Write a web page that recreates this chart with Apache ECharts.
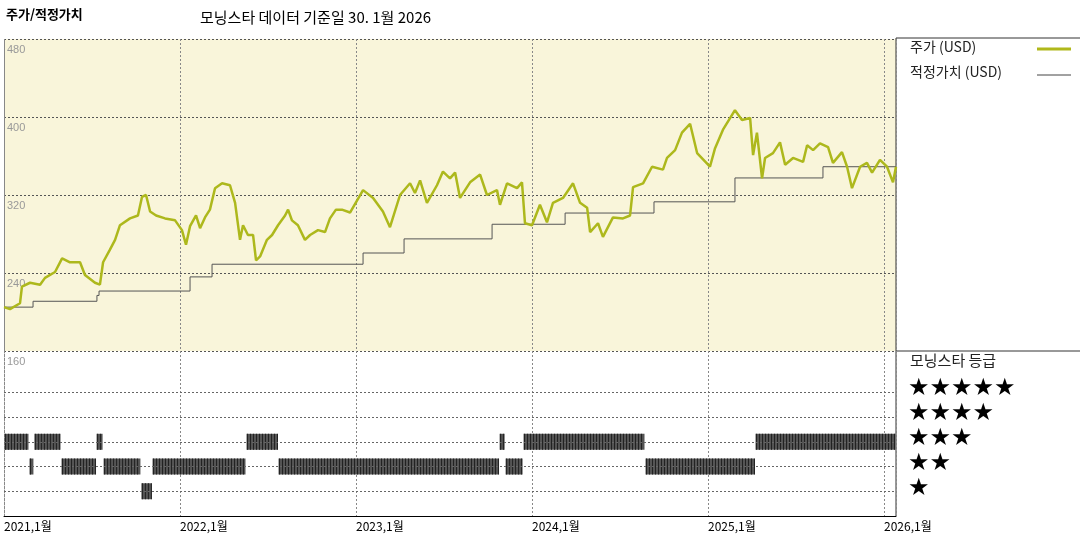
<!DOCTYPE html>
<html>
<head>
<meta charset="utf-8">
<script src="https://cdn.jsdelivr.net/npm/echarts@6/dist/echarts.min.js"></script>
<style>html,body{margin:0;padding:0;background:#fff}#chart{width:1080px;height:540px}</style>
</head>
<body>
<div id="chart"></div>
<script>
// 날짜는 연도 소수값 (2021.0 = 2021년 1월 1일)
var priceDates = [2021.000,2021.034,2021.091,2021.102,2021.148,2021.205,2021.233,2021.290,2021.330,2021.375,2021.432,2021.460,2021.517,2021.545,2021.563,2021.602,2021.631,2021.659,2021.716,2021.761,2021.784,2021.807,2021.830,2021.864,2021.915,2021.972,
  2022.011,2022.034,2022.057,2022.091,2022.114,2022.142,2022.170,2022.199,2022.239,2022.284,2022.313,2022.341,2022.358,2022.386,2022.415,2022.432,2022.455,2022.494,2022.523,2022.557,2022.597,2022.614,2022.636,2022.670,2022.710,2022.739,2022.784,2022.824,2022.852,2022.886,2022.920,2022.966,
  2023.040,2023.097,2023.153,2023.193,2023.250,2023.307,2023.335,2023.364,2023.403,2023.460,2023.494,2023.534,2023.563,2023.591,2023.648,2023.705,2023.744,2023.801,2023.818,2023.858,2023.915,2023.943,2023.960,
  2024.000,2024.045,2024.085,2024.119,2024.176,2024.233,2024.273,2024.313,2024.330,2024.375,2024.403,2024.460,2024.517,2024.557,2024.574,2024.631,2024.682,2024.744,2024.767,2024.813,2024.852,2024.898,2024.938,
  2025.011,2025.040,2025.085,2025.153,2025.193,2025.239,2025.256,2025.278,2025.307,2025.324,2025.369,2025.409,2025.438,2025.483,2025.540,2025.563,2025.597,2025.636,2025.682,2025.710,2025.761,2025.790,2025.818,2025.864,2025.903,2025.932,2025.977,
  2026.017,2026.051,2026.068];
var priceValues = [205,203,209,226,230,228,235,241,255,251,251,238,230,228,251,264,274,289,296,299,318,320,303,299,296,294,
  284,269,288,299,286,297,305,327,332,330,312,274,289,279,279,253,257,274,279,289,299,305,294,289,274,279,284,282,296,305,305,302,
  325,317,303,287,320,332,322,335,312,330,344,337,343,317,333,341,320,325,310,332,327,333,291,
  289,310,292,312,317,332,312,307,282,291,277,297,296,299,328,332,349,346,358,366,384,393,363,
  349,368,387,407,397,399,361,384,337,358,363,374,351,358,354,371,366,373,369,353,364,349,327,349,353,343,356,
  349,333,349];

var fairDates  = [2021.000,2021.165,2021.528,2021.540,2022.057,2022.182,2023.040,2023.273,2023.773,2024.188,2024.693,2025.153,2025.653,2026.068];
var fairValues = [205,211,217,221.5,236,249,260.5,275,290,301.5,313,337.5,349,349];

// 모닝스타 등급 구간: [시작, 끝, 별 개수]
var ratingStart = [2021.000,2021.142,2021.170,2021.324,2021.523,2021.563,2021.778,2021.841,2022.375,2022.557,2023.813,2023.847,2023.949,2024.642,2025.267];
var ratingEnd   = [2021.142,2021.170,2021.324,2021.523,2021.563,2021.778,2021.841,2022.375,2022.557,2023.813,2023.847,2023.949,2024.642,2025.267,2026.068];
var ratingStars = [3,2,3,2,3,2,1,2,3,2,3,2,3,2,3];

var yTicks = [160, 240, 320, 400, 480];
var starRows = [5, 4, 3, 2, 1];

var XMIN = 2021, XMAX = 2026.068;
var font = '"Noto Sans CJK KR", "Noto Sans", sans-serif';

var chart = echarts.init(document.getElementById('chart'));

var priceData = priceDates.map(function (d, i) { return [d, priceValues[i]]; });
var fairData = fairDates.map(function (d, i) { return [d, fairValues[i]]; });
var ratingData = ratingStart.map(function (s, i) { return [s, ratingEnd[i], ratingStars[i]]; });

var graphics = [
  { type: 'text', left: 6, top: 8, style: { text: '주가/적정가치', font: 'bold 13px ' + font, fill: '#000' } },
  { type: 'text', left: 200, top: 10, style: { text: '모닝스타 데이터 기준일 30. 1월 2026', font: '15px ' + font, fill: '#000' } },
  { type: 'line', shape: { x1: 896, y1: 38, x2: 1080, y2: 38 }, style: { stroke: '#333', lineWidth: 1 } },
  { type: 'line', shape: { x1: 896, y1: 351, x2: 1080, y2: 351 }, style: { stroke: '#333', lineWidth: 1 } },
  { type: 'line', shape: { x1: 896, y1: 38, x2: 896, y2: 516 }, style: { stroke: '#333', lineWidth: 1 } },
  { type: 'text', left: 910, top: 40, style: { text: '주가 (USD)', font: '14px ' + font, fill: '#222' } },
  { type: 'line', shape: { x1: 1037, y1: 49, x2: 1071, y2: 49 }, style: { stroke: '#b0b81a', lineWidth: 3 } },
  { type: 'text', left: 910, top: 65, style: { text: '적정가치 (USD)', font: '14px ' + font, fill: '#222' } },
  { type: 'line', shape: { x1: 1037, y1: 75, x2: 1071, y2: 75 }, style: { stroke: '#444', lineWidth: 1 } },
  { type: 'text', left: 910, top: 353, style: { text: '모닝스타 등급', font: '15px ' + font, fill: '#222' } }
];
starRows.forEach(function (n, i) {
  graphics.push({ type: 'text', left: 908, top: 377 + i * 25,
    style: { text: '★'.repeat(n), font: '24px "DejaVu Sans", sans-serif', fill: '#000' } });
});

var option = {
  animation: false,
  graphic: graphics,
  grid: [
    { left: 4, top: 39, width: 892, height: 312, show: true, backgroundColor: '#f9f5da', borderWidth: 0 },
    { left: 4, top: 351, width: 892, height: 165, show: false }
  ],
  xAxis: [
    { type: 'value', gridIndex: 0, min: XMIN, max: XMAX, interval: 1,
      axisLine: { show: false }, axisTick: { show: false }, axisLabel: { show: false },
      splitLine: { show: true, lineStyle: { color: '#888', type: [2, 2] } } },
    { type: 'value', gridIndex: 1, min: XMIN, max: XMAX, interval: 1,
      axisLine: { show: true, onZero: false, lineStyle: { color: '#000' } }, axisTick: { show: false },
      axisLabel: { show: true, color: '#000', fontSize: 12, fontFamily: font, align: 'left', margin: 4,
        formatter: function (v) { return v + ',1월'; } },
      splitLine: { show: true, lineStyle: { color: '#888', type: [2, 2] } } }
  ],
  yAxis: [
    { type: 'value', gridIndex: 0, min: 160, max: 480, interval: 80,
      axisLine: { show: true, lineStyle: { color: '#888', type: [2, 2] } }, axisTick: { show: false },
      axisLabel: { inside: true, color: '#999', fontSize: 11, verticalAlign: 'top', margin: 3, padding: [5, 0, 0, 0],
        formatter: function (v) { return yTicks.indexOf(v) >= 0 ? v : ''; } },
      splitLine: { show: true, lineStyle: { color: '#555', type: [2, 2] } } },
    { type: 'value', gridIndex: 1, min: 0, max: 6.67,
      axisLine: { show: true, lineStyle: { color: '#888', type: [2, 2] } }, axisTick: { show: false },
      axisLabel: { show: false }, splitLine: { show: false } }
  ],
  series: [
    { name: '적정가치 (USD)', type: 'line', xAxisIndex: 0, yAxisIndex: 0, step: 'end', data: fairData,
      showSymbol: false, lineStyle: { color: '#555', width: 1 } },
    { name: '주가 (USD)', type: 'line', xAxisIndex: 0, yAxisIndex: 0, data: priceData,
      showSymbol: false, lineStyle: { color: '#adb81c', width: 2.5 } },
    { name: '등급', type: 'custom', xAxisIndex: 1, yAxisIndex: 1, data: ratingData,
      renderItem: function (params, api) {
        var a = api.coord([api.value(0), api.value(2)]);
        var b = api.coord([api.value(1), api.value(2)]);
        var x0 = a[0] + 0.5, w = Math.max(b[0] - a[0] - 1, 2);
        var children = [{ type: 'rect', shape: { x: x0, y: a[1] - 8, width: w, height: 16 }, style: { fill: '#555' } }];
        for (var x = x0 + 1; x < x0 + w; x += 3) {
          children.push({ type: 'line', shape: { x1: x, y1: a[1] - 8, x2: x, y2: a[1] + 8 }, style: { stroke: '#222', lineWidth: 1 } });
        }
        return { type: 'group', children: children };
      },
      markLine: { silent: true, symbol: 'none', label: { show: false },
        lineStyle: { color: '#666', type: [2, 2], width: 1 },
        data: starRows.map(function (r) { return { yAxis: r }; }) } }
  ]
};
chart.setOption(option);
</script>
</body>
</html>
